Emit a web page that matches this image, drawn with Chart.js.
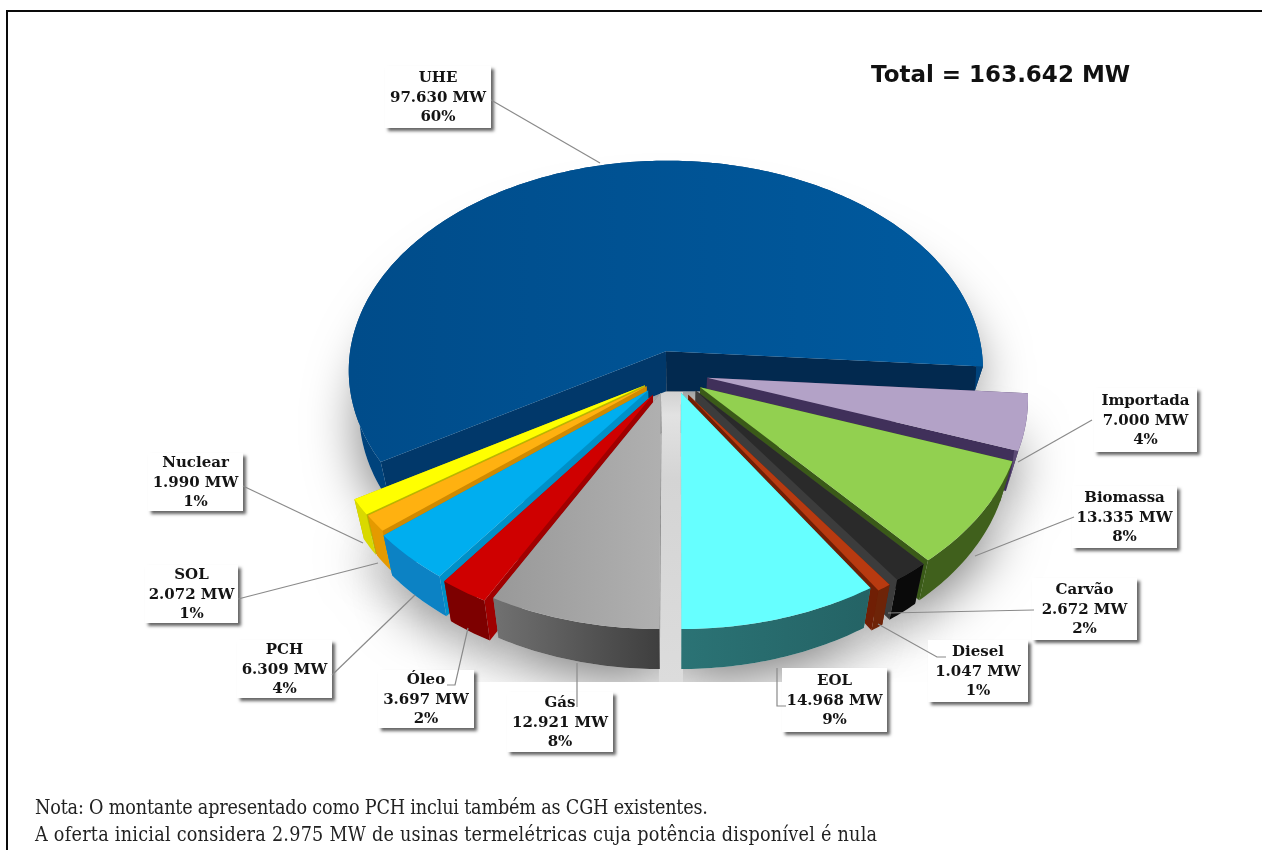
<!DOCTYPE html>
<html lang="pt">
<head>
<meta charset="utf-8">
<style>
html,body{margin:0;padding:0;background:#fff;overflow:hidden}
#wrap{position:relative;width:1262px;height:850px;overflow:hidden}
#frame{position:absolute;left:6px;top:10px;width:1262px;height:900px;border:2px solid #0a0a0a;box-sizing:border-box}
canvas{position:absolute;left:0;top:0}
#total{position:absolute;left:871px;top:61px;font:bold 23px "DejaVu Sans",sans-serif;color:#111;white-space:nowrap}
.note{position:absolute;left:35px;font:19.6px "DejaVu Serif Condensed","DejaVu Serif",serif;color:#222;white-space:nowrap}
</style>
</head>
<body>
<div id="wrap">
<canvas id="c" width="1262" height="850"></canvas>
<div id="frame"></div>
<div id="total">Total = 163.642 MW</div>
<div class="note" style="top:796px;letter-spacing:-.18px">Nota: O montante apresentado como PCH inclui também as CGH existentes.</div>
<div class="note" style="top:823px;letter-spacing:.25px">A oferta inicial considera 2.975 MW de usinas termelétricas cuja potência disponível é nula</div>
</div>
<script src="https://cdn.jsdelivr.net/npm/chart.js@4"></script>
<script>
// ---- data ----
const categories = ["Gás","Óleo","PCH","SOL","Nuclear","UHE","Importada","Biomassa","Carvão","Diesel","EOL"];
const valuesMW   = [12921,3697,6309,2072,1990,97630,7000,13335,2672,1047,14968];
const percents   = [8,2,4,1,1,60,4,8,2,1,9];

// ---- styles ----
const topColors    = ["#a6a6a6","#cf0000","#00aeef","#ffb110","#ffff00","#00508f","#b3a2c7","#92d050","#2a2a2a","#b83a10","#66ffff"];
const wallColors   = ["#555555","#7d0000","#0c82c4","#e59a00","#d9d900","#00437c","#5c4a75","#40601c","#0a0a0a","#6e2408","#27696b"];
const radialColors = ["#808080","#a00000","#0090c8","#d08a00","#b8b800","#01386a","#40305a","#3a5a18","#3c3c3c","#701f05","#30a0a0"];
const endFaceColors= ["#808080","#a00000","#0090c8","#d08a00","#b8b800","#02294f","#40305a","#3a5a18","#3c3c3c","#701f05","#30a0a0"];
// how far each exploded slice sits from the pie centre, in radii
const explodeU = [-.05,-.075,-.09,-.095,-.10,-.035,.094,.072,.058,.035,.0125];
const explodeV = [.05,.06,.04,.02,.015,-.146,-.02,.025,.04,.06,.05];
const paintOrder = ["UHE","Importada","Biomassa","Carvão","Diesel","EOL","Nuclear","SOL","PCH","Óleo","Gás"];
// label boxes: left, top, width, height; leader polyline
const labelBoxes = {
  "UHE":[385,66,106,62],"Importada":[1094,388,103,64],"Biomassa":[1072,486,105,62],
  "Carvão":[1032,578,105,62],"Diesel":[928,640,100,62],"EOL":[782,668,105,64],
  "Gás":[507,692,106,60],"Óleo":[378,670,96,58],"PCH":[237,640,95,58],
  "SOL":[145,565,93,58],"Nuclear":[148,453,95,58]
};
const leaders = {
  "UHE":[[491,100],[600,163]],"Importada":[[1092,420],[1018,462]],"Biomassa":[[1074,517],[975,556]],
  "Carvão":[[1034,610],[888,613]],"Diesel":[[946,657],[937,657],[878,624]],"EOL":[[786,706],[777,706],[777,668]],
  "Gás":[[577,707],[577,663]],"Óleo":[[447,685],[455,685],[468,628]],"PCH":[[332,675],[415,595]],
  "SOL":[[238,599],[378,563]],"Nuclear":[[243,486],[363,543]]
};

// ---- perspective view of the pie ----
const CX=677, CY=382, RX=320, RY=213, K=.09;
function proj(u,v){const s=1/(1-K*v);return [CX+RX*u*s,CY+RY*v*s];}
function clamp(x){return Math.max(0,Math.min(1,x));}
function under(u,v){
  const p=proj(u,v);
  const d=40-15*clamp((u-.6)/.35)*clamp((.3-v)/.4);
  const lean=u>0?u*12*clamp((v+.3)/.3):u*10;
  return [p[0]-lean,p[1]+d];
}
function poly(ctx,pts,fill){
  ctx.beginPath();pts.forEach((p,i)=>i?ctx.lineTo(p[0],p[1]):ctx.moveTo(p[0],p[1]));ctx.closePath();
  ctx.fillStyle=fill;ctx.fill();
}
function arcSamples(el,i){
  const a0=el.startAngle,a1=el.endAngle,n=Math.max(4,Math.ceil((a1-a0)/.015)),out=[];
  for(let k=0;k<=n;k++){const a=a0+(a1-a0)*k/n;out.push([explodeU[i]+Math.cos(a),explodeV[i]+Math.sin(a)]);}
  return out;
}
function hGrad(ctx,x0,x1,c0,c1){const g=ctx.createLinearGradient(x0,0,x1,0);g.addColorStop(0,c0);g.addColorStop(1,c1);return g;}

const pie3d={
  id:'pie3d',
  beforeDatasetDraw(chart){
    const ctx=chart.ctx,els=chart.getDatasetMeta(0).data;
    const order=paintOrder.map(n=>categories.indexOf(n));
    // soft ground shadow, cut off just below the pie as in the source image
    ctx.save();
    ctx.beginPath();ctx.rect(0,0,1262,682);ctx.clip();
    ctx.shadowColor='rgba(0,0,0,.5)';ctx.shadowBlur=52;ctx.shadowOffsetY=14;
    order.forEach(i=>{
      const arc=arcSamples(els[i],i),ap=[explodeU[i],explodeV[i]];
      poly(ctx,[under(ap[0],ap[1])].concat(arc.map(p=>under(p[0],p[1]))),'#dcdcdc');
    });
    ctx.restore();
    // light strip of ground seen through the front gap
    const gap=ctx.createLinearGradient(0,392,0,682);
    gap.addColorStop(0,'#d2d2d2');gap.addColorStop(.08,'#e2e2e2');gap.addColorStop(.3,'#d4d4d4');gap.addColorStop(1,'#dcdcdc');
    const gl=proj(explodeU[0],explodeV[0])[0],gr=proj(explodeU[10],explodeV[10])[0];
    poly(ctx,[[gl-2,392],[gr+2,392],[gr+2,682],[gl-2,682]],gap);
    order.forEach(i=>{
      const el=els[i],arc=arcSamples(el,i),ap=[explodeU[i],explodeV[i]];
      const n=categories[i];
      const top=arc.map(p=>proj(p[0],p[1])),bot=arc.map(p=>under(p[0],p[1]));
      const A=proj(ap[0],ap[1]),B=under(ap[0],ap[1]);
      // radial faces
      poly(ctx,[A,top[0],bot[0],B],radialColors[i]);
      poly(ctx,[A,top[top.length-1],bot[bot.length-1],B],endFaceColors[i]);
      // outer wall
      let wall=wallColors[i];
      if(n==="Gás")wall=hGrad(ctx,497,661,"#707070","#3e3e3e");
      if(n==="EOL")wall=hGrad(ctx,681,868,"#2b7375","#246365");
      poly(ctx,top.concat(bot.slice().reverse()),wall);
      // top
      let fill=topColors[i];
      if(n==="Gás")fill=hGrad(ctx,497,661,"#999999","#b0b0b0");
      if(n==="UHE")fill=hGrad(ctx,352,980,"#004c8a","#005a9f");
      poly(ctx,[A].concat(top),fill);
    });
    // keep the library from drawing a flat copy
    return false;
  },
  afterDatasetsDraw(chart){
    const ctx=chart.ctx;
    categories.forEach((n,i)=>{
      const b=labelBoxes[n];
      ctx.save();
      ctx.shadowColor='rgba(0,0,0,.6)';ctx.shadowBlur=3;ctx.shadowOffsetX=3;ctx.shadowOffsetY=3;
      ctx.fillStyle='#fff';ctx.fillRect(b[0],b[1],b[2],b[3]);
      ctx.restore();
      const l=leaders[n];
      ctx.beginPath();l.forEach((p,k)=>k?ctx.lineTo(p[0],p[1]):ctx.moveTo(p[0],p[1]));
      ctx.strokeStyle='#8a8a8a';ctx.lineWidth=1.2;ctx.stroke();
      ctx.fillStyle='#141414';ctx.textAlign='center';ctx.textBaseline='middle';
      ctx.font='bold 15px "DejaVu Serif",serif';
      const cx=b[0]+b[2]/2,cy=b[1]+b[3]/2+1,txt=String(valuesMW[i]).replace(/\B(?=(\d{3})+$)/g,'.')+' MW';
      ctx.fillText(n,cx,cy-19.5);
      ctx.fillText(txt,cx,cy);
      ctx.fillText(percents[i]+'%',cx,cy+19.5);
    });
  }
};

new Chart(document.getElementById('c'),{
  type:'pie',
  data:{labels:categories,datasets:[{data:valuesMW,backgroundColor:topColors,borderWidth:0}]},
  options:{
    responsive:false,animation:false,rotation:180,
    plugins:{legend:{display:false},tooltip:{enabled:false},title:{display:false}}
  },
  plugins:[pie3d]
});
</script>
</body>
</html>
